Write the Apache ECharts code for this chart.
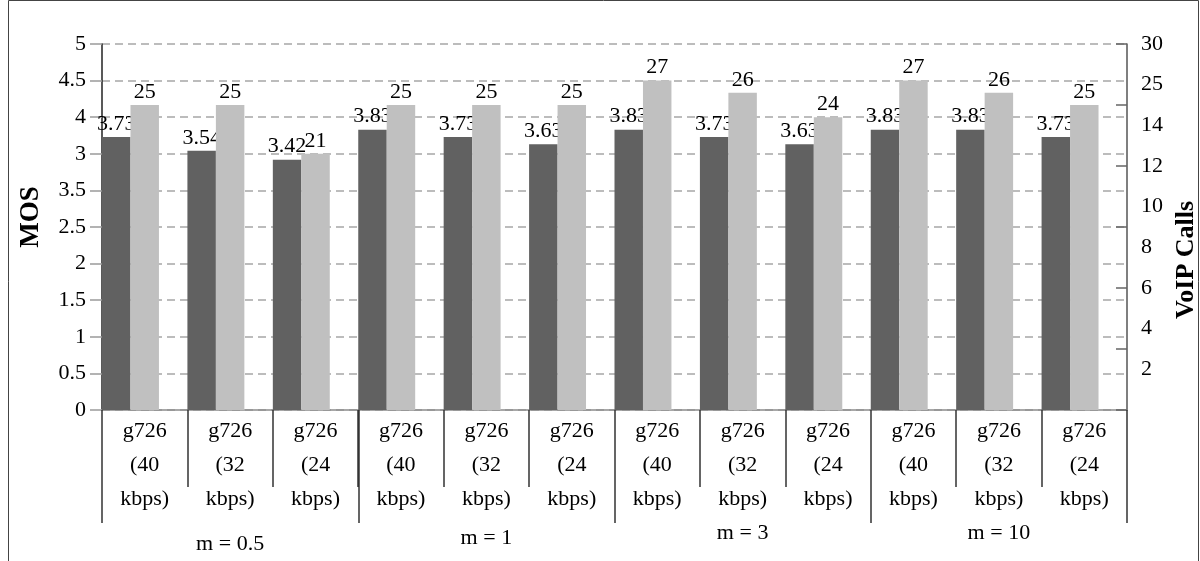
<!DOCTYPE html>
<html>
<head>
<meta charset="utf-8">
<script src="https://cdn.jsdelivr.net/npm/echarts@6/dist/echarts.min.js"></script>
<style>
  html, body { margin: 0; padding: 0; background: #fff; }
  #chart { width: 1200px; height: 561px; }
</style>
</head>
<body>
<div id="chart"></div>
<script>
// Codec rows under each m group
const codecs = [
  'g726\n(40\nkbps)', 'g726\n(32\nkbps)', 'g726\n(24\nkbps)',
  'g726\n(40\nkbps)', 'g726\n(32\nkbps)', 'g726\n(24\nkbps)',
  'g726\n(40\nkbps)', 'g726\n(32\nkbps)', 'g726\n(24\nkbps)',
  'g726\n(40\nkbps)', 'g726\n(32\nkbps)', 'g726\n(24\nkbps)'
];
const groups = ['m = 0.5', 'm = 1', 'm = 3', 'm = 10'];

// MOS (left axis) and number of VoIP calls (right axis)
const mosValues = [3.73, 3.54, 3.42, 3.83, 3.73, 3.63, 3.83, 3.73, 3.63, 3.83, 3.83, 3.73];
const callValues = [25, 25, 21, 25, 25, 25, 27, 26, 24, 27, 26, 25];

// Tick labels as printed on the two value axes
const mosTickLabels = ['0', '0.5', '1', '1.5', '2', '2.5', '3.5', '3', '4', '4.5', '5'];
const callTickLabels = ['', '2', '4', '6', '8', '10', '12', '14', '25', '30'];

const FONT = "'Liberation Serif', 'Times New Roman', serif";

const chart = echarts.init(document.getElementById('chart'));

const valueLabel = {
  show: true,
  position: 'top',
  distance: 2,
  fontFamily: FONT,
  fontSize: 22,
  color: '#000'
};

chart.setOption({
  animation: false,
  backgroundColor: '#fff',
  grid: { left: 102, right: 73, top: 44, bottom: 151, outerBoundsMode: 'none', containLabel: false },
  graphic: [{
    type: 'rect',
    shape: { x: 8.5, y: 0.5, width: 1190, height: 580 },
    style: { fill: 'none', stroke: '#444', lineWidth: 1 },
    silent: true
  }],
  xAxis: [{
    type: 'category',
    data: codecs,
    position: 'bottom',
    axisLine: { show: true, lineStyle: { color: '#8c8c8c', width: 1.5 } },
    axisTick: { show: true, interval: 0, length: 77, lineStyle: { color: '#333', width: 1.5 } },
    axisLabel: {
      interval: 0, margin: 4, fontFamily: FONT, fontSize: 22, lineHeight: 34, color: '#000'
    },
    splitLine: { show: false }
  }, {
    type: 'category',
    data: [
      { value: groups[0], textStyle: { padding: [11, 0, 0, 0] } },
      { value: groups[1], textStyle: { padding: [5, 0, 0, 0] } },
      groups[2],
      groups[3]
    ],
    position: 'bottom',
    axisLine: { show: false },
    axisTick: { show: true, interval: 0, length: 113, lineStyle: { color: '#333', width: 1.5 } },
    axisLabel: { interval: 0, margin: 112, fontFamily: FONT, fontSize: 22, color: '#000' },
    splitLine: { show: false }
  }],
  yAxis: [{
    type: 'value',
    position: 'left',
    min: 0, max: 5, interval: 0.5,
    axisLine: { show: true, lineStyle: { color: '#222', width: 1.5 } },
    axisTick: { show: true, length: 12, lineStyle: { color: '#9a9a9a', width: 1.5 } },
    axisLabel: {
      margin: 16, fontFamily: FONT, fontSize: 22, color: '#000',
      formatter: v => mosTickLabels[Math.round(v / 0.5)]
    },
    splitLine: { show: true, lineStyle: { color: '#a6a6a6', width: 1.5, type: [8, 5] } },
    name: 'MOS',
    nameLocation: 'middle',
    nameRotate: 90,
    nameGap: 57,
    nameTextStyle: { fontFamily: FONT, fontSize: 27, fontWeight: 'bold', color: '#000', padding: [0, 0, 0, 20] }
  }, {
    type: 'value',
    position: 'right',
    min: 0, max: 30, interval: 5,
    axisLine: { show: true, lineStyle: { color: '#555', width: 1.5 } },
    axisTick: { show: true, inside: true, length: 11, lineStyle: { color: '#666', width: 1.5 } },
    axisLabel: { show: false },
    splitLine: { show: false },
    name: 'VoIP Calls',
    nameLocation: 'middle',
    nameRotate: 90,
    nameGap: 46,
    nameTextStyle: { fontFamily: FONT, fontSize: 26, fontWeight: 'bold', color: '#000', padding: [0, 66, 0, 0] }
  }, {
    type: 'value',
    position: 'right',
    min: 0, max: 18, interval: 2,
    axisLine: { show: false },
    axisTick: { show: false },
    axisLabel: {
      margin: 14, fontFamily: FONT, fontSize: 22, color: '#000',
      formatter: v => callTickLabels[Math.round(v / 2)]
    },
    splitLine: { show: false }
  }],
  series: [{
    name: 'MOS',
    type: 'bar',
    xAxisIndex: 0,
    yAxisIndex: 0,
    data: mosValues,
    barGap: '0%',
    barCategoryGap: '0%',
    itemStyle: { color: '#616161' },
    z: 2,
    label: valueLabel
  }, {
    name: 'VoIP Calls',
    type: 'bar',
    xAxisIndex: 0,
    yAxisIndex: 1,
    data: callValues,
    barGap: '0%',
    barCategoryGap: '0%',
    itemStyle: { color: '#c0c0c0' },
    z: 3,
    label: valueLabel
  }, {
    // empty slot that keeps each pair at the left of its category
    name: 'spacer',
    type: 'bar',
    xAxisIndex: 0,
    yAxisIndex: 1,
    data: [],
    barGap: '0%',
    barCategoryGap: '0%',
    silent: true
  }]
});
</script>
</body>
</html>
